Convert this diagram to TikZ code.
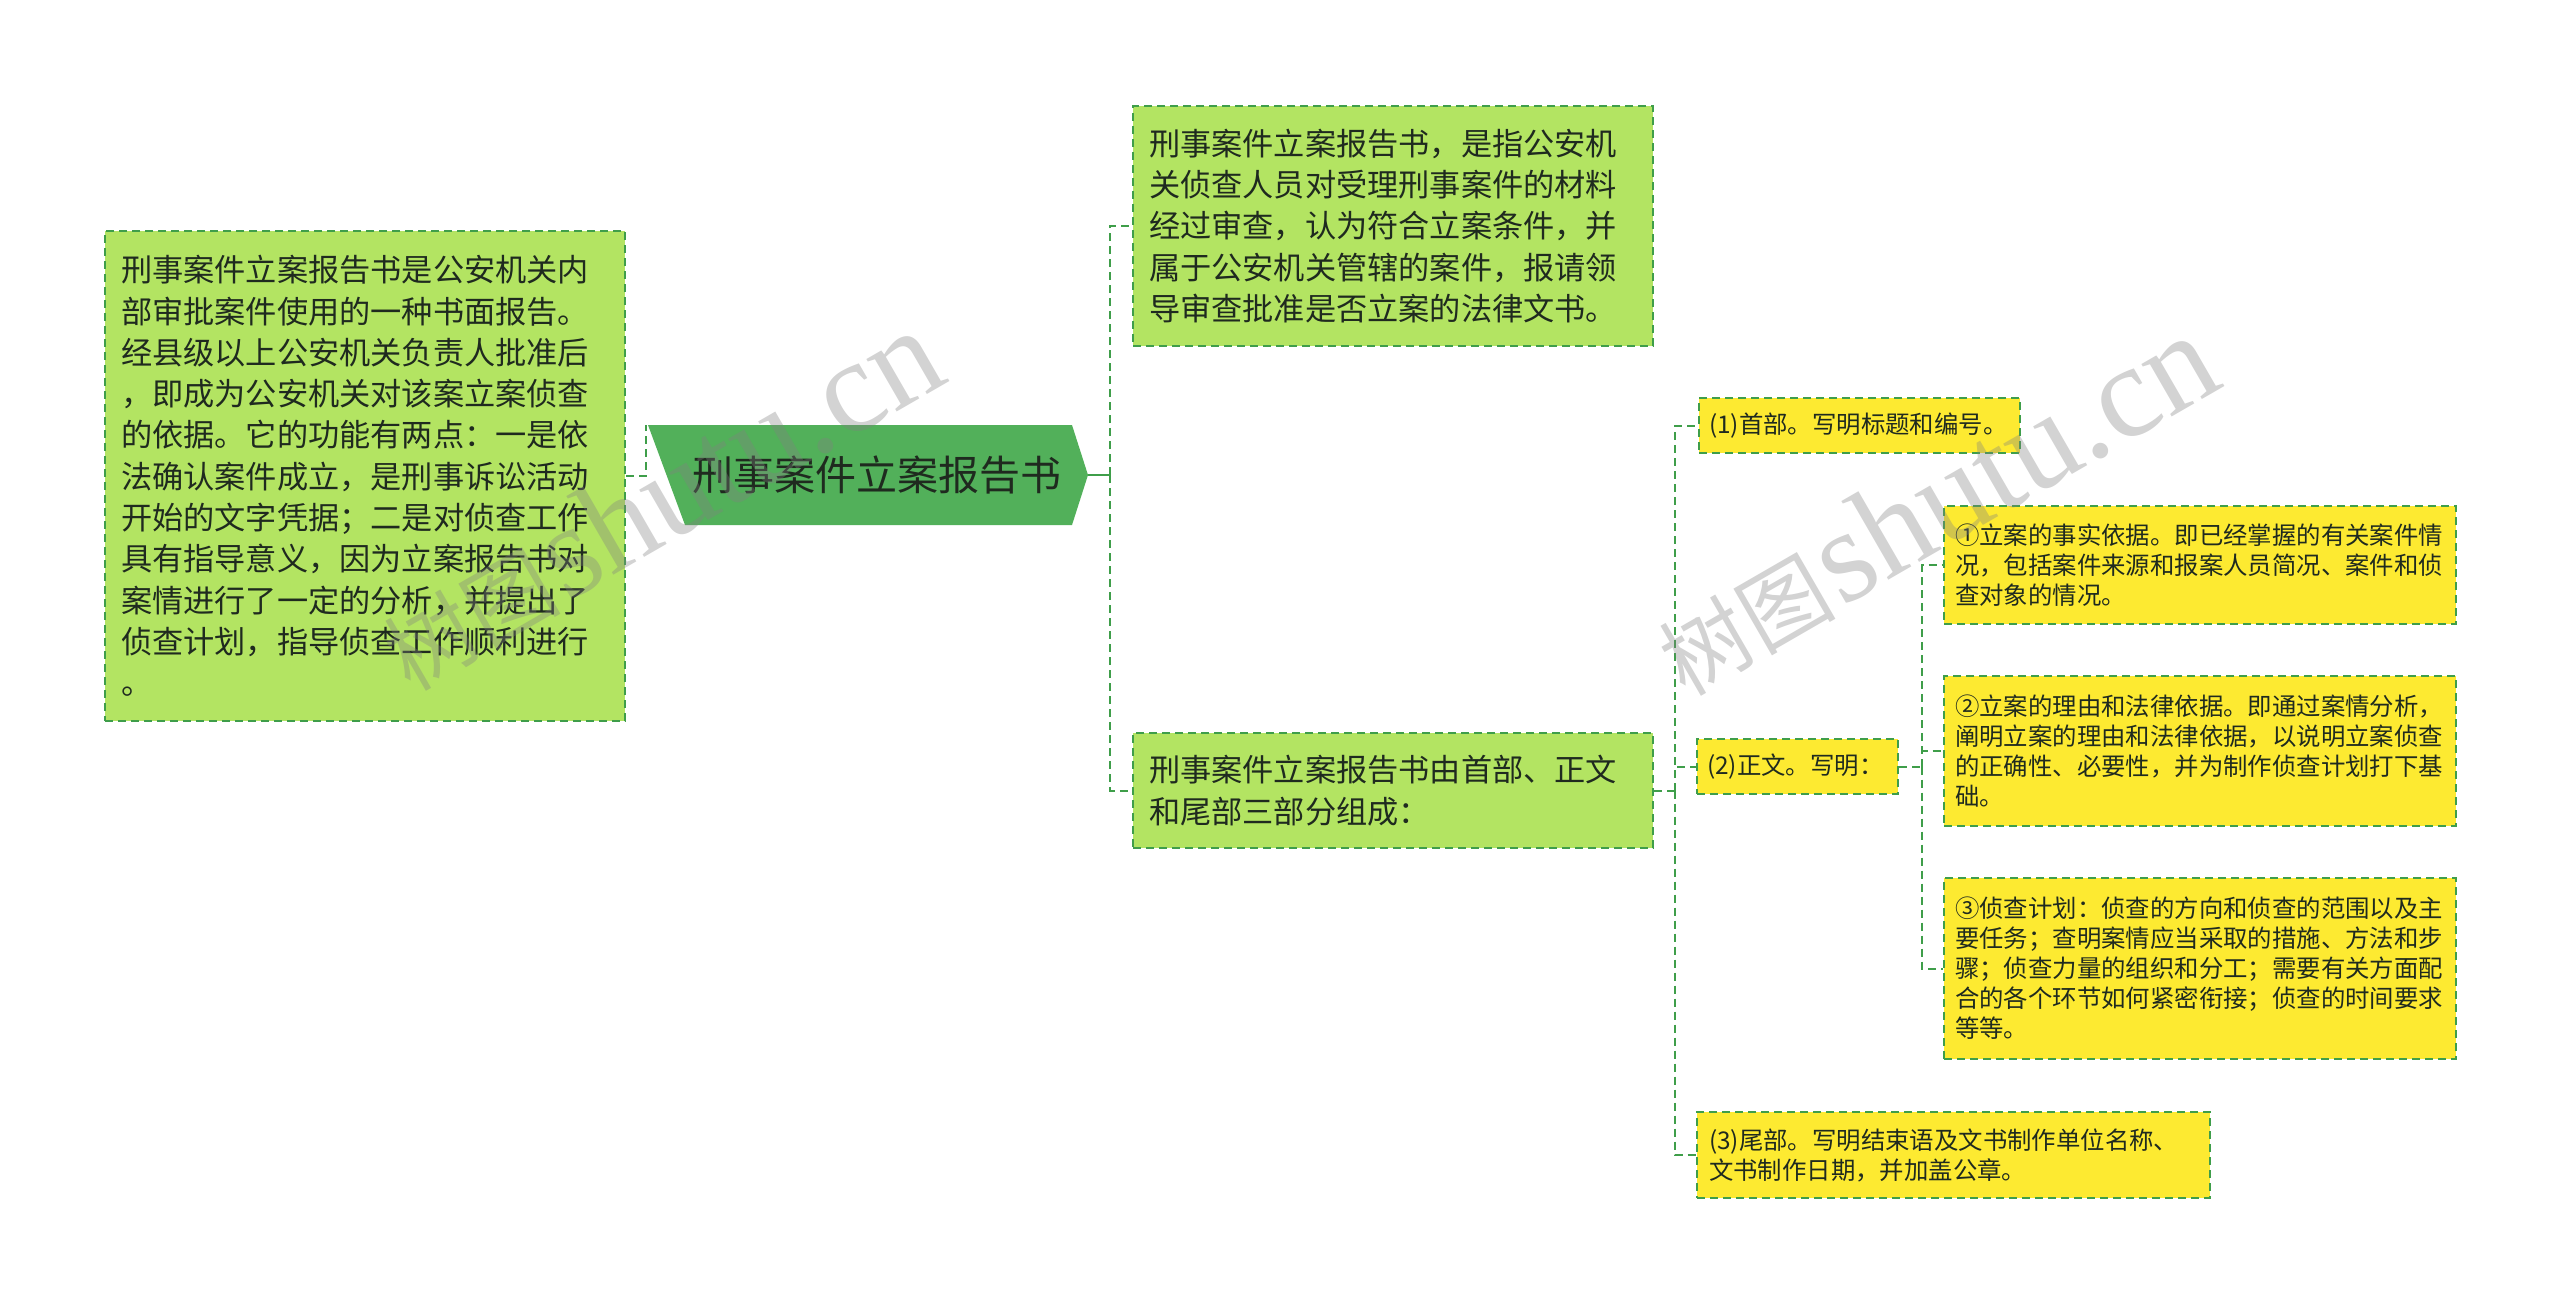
\documentclass[tikz,border=0pt]{standalone}
\usepackage{fontspec}
\setmainfont{Noto Sans CJK SC}
\newfontfamily\cjk{Noto Sans CJK SC}
\newfontfamily\wmserif{Liberation Serif}
\usetikzlibrary{calc}
\definecolor{lgreen}{HTML}{B3E462}
\definecolor{dgreen}{HTML}{52B05A}
\definecolor{bgreen}{HTML}{3F9E4A}
\definecolor{yel}{HTML}{FDEA31}
\definecolor{txt}{HTML}{1F2A1F}
\begin{document}
\begin{tikzpicture}[x=0.5pt,y=-0.5pt,
  boxbase/.style={draw=bgreen, dash pattern=on 4pt off 2.5pt, line width=1pt,
    anchor=north west, align=left, inner ysep=0pt, text=txt},
  gbox/.style={boxbase, fill=lgreen, inner xsep=8pt, text width=244pt,
    font=\cjk\fontsize{15.6pt}{20.65pt}\selectfont},
  ybox/.style={boxbase, fill=yel, inner xsep=5.5pt,
    font=\cjk\fontsize{12.2pt}{15pt}\selectfont},
  conn/.style={draw=bgreen, line width=1pt, dash pattern=on 4pt off 2.5pt},
  wm/.style={text=gray, opacity=0.35, rotate=30, inner sep=0pt},
]
\useasboundingbox (0,0) rectangle (2560,1303);

% root
\node[minimum width=220pt, minimum height=50pt, inner sep=0pt, text=txt,
  font=\cjk\fontsize{20.5pt}{24pt}\selectfont,
  path picture={\fill[dgreen] (path picture bounding box.north west)
     -- ([xshift=-8pt]path picture bounding box.north east)
     -- (path picture bounding box.east)
     -- ([xshift=-8pt]path picture bounding box.south east)
     -- ([xshift=18.5pt]path picture bounding box.south west) -- cycle;}]
  (root) at (868,475) {\hspace*{9pt}刑事案件立案报告书};

% left description
\node[gbox, minimum height=245pt] (desc) at (104,230)
{刑事案件立案报告书是公安机关内\\部审批案件使用的一种书面报告。\\经县级以上公安机关负责人批准后\\，即成为公安机关对该案立案侦查\\的依据。它的功能有两点：一是依\\法确认案件成立，是刑事诉讼活动\\开始的文字凭据；二是对侦查工作\\具有指导意义，因为立案报告书对\\案情进行了一定的分析，并提出了\\侦查计划，指导侦查工作顺利进行\\。};

% right branches
\node[gbox, minimum height=120pt] (def) at (1132,105)
{刑事案件立案报告书，是指公安机\\关侦查人员对受理刑事案件的材料\\经过审查，认为符合立案条件，并\\属于公安机关管辖的案件，报请领\\导审查批准是否立案的法律文书。};

\node[gbox, minimum height=57.5pt] (struct) at (1132,732)
{刑事案件立案报告书由首部、正文\\和尾部三部分组成：};

% level 3
\node[ybox, inner xsep=5pt, text width=150.5pt, minimum height=27.5pt] (p1) at (1698,397)
{(1)首部。写明标题和编号。};
\node[ybox, inner xsep=5pt, text width=90.5pt, minimum height=27.5pt] (p2) at (1696,738)
{(2)正文。写明：};
\node[ybox, inner xsep=6pt, text width=244.5pt, minimum height=43pt] (p3) at (1696,1111)
{(3)尾部。写明结束语及文书制作单位名称、\\文书制作日期，并加盖公章。};

% level 4
\node[ybox, text width=245pt, minimum height=59pt] (s1) at (1943,505)
{①立案的事实依据。即已经掌握的有关案件情\\况，包括案件来源和报案人员简况、案件和侦\\查对象的情况。};
\node[ybox, text width=245pt, minimum height=75pt] (s2) at (1943,675)
{②立案的理由和法律依据。即通过案情分析，\\阐明立案的理由和法律依据，以说明立案侦查\\的正确性、必要性，并为制作侦查计划打下基\\础。};
\node[ybox, text width=245pt, minimum height=90.5pt] (s3) at (1943,877)
{③侦查计划：侦查的方向和侦查的范围以及主\\要任务；查明案情应当采取的措施、方法和步\\骤；侦查力量的组织和分工；需要有关方面配\\合的各个环节如何紧密衔接；侦查的时间要求\\等等。};

% connectors
\draw[conn] (desc.east) -| ([xshift=-1pt]root.north west);
\draw[bgreen, line width=1pt] (root.east) -- ++(22,0) coordinate (j1);
\draw[conn] (j1) |- (def.west);
\draw[conn] (j1) |- (struct.west);
\draw[conn] (struct.east) -- ++(21,0) coordinate (j2);
\draw[conn] (j2) |- (p1.west);
\draw[conn] (j2) |- (p2.west);
\draw[conn] (j2) |- (p3.west);
\draw[conn] (p2.east) -- ++(23,0) coordinate (j3);
\draw[conn] (j3) |- (s1.west);
\draw[conn] (j3) |- (s2.west);
\draw[conn] (j3) |- (s3.west);

% watermarks
\node[wm] (wm1) at (660,500) {{\cjk\fontsize{44pt}{44pt}\selectfont 树图} {\wmserif\fontsize{66pt}{66pt}\selectfont shutu.cn}};
\node[wm] (wm2) at (1935,505) {{\cjk\fontsize{44pt}{44pt}\selectfont 树图} {\wmserif\fontsize{66pt}{66pt}\selectfont shutu.cn}};
\end{tikzpicture}
\end{document}
